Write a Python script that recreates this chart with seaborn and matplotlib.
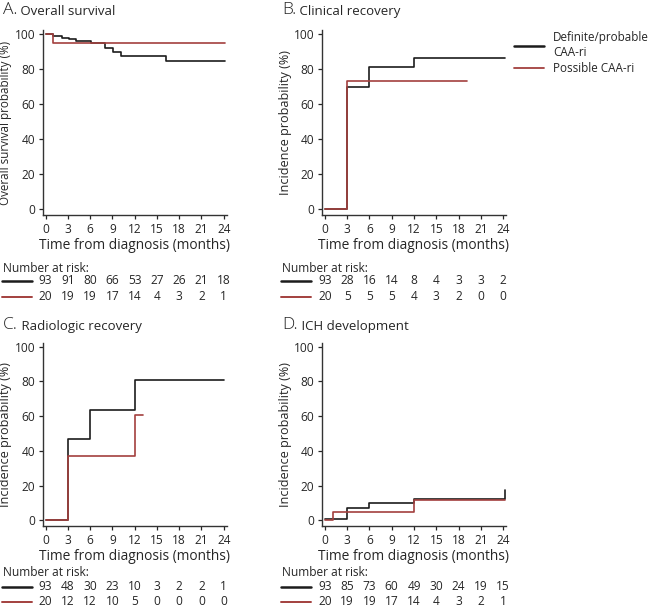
import matplotlib
matplotlib.use('Agg')
import matplotlib.pyplot as plt
import matplotlib.transforms as mtransforms
from matplotlib.lines import Line2D
import seaborn as sns

# colours
black_col = '#1c1c1c'
red_col = '#a3403e'
text_col = '#262626'

# months at which numbers at risk are reported
risk_times = [0, 3, 6, 9, 12, 15, 18, 21, 24]

# A. overall survival
a_def_t = [0, 1, 2.2, 3.1, 4.1, 6.1, 8, 9.1, 10.1, 16.2, 24.2]
a_def_v = [100, 98.9, 97.9, 97.0, 95.9, 95.1, 91.9, 89.5, 87.6, 84.6, 84.6]
a_pos_t = [0, 1, 24.2]
a_pos_v = [100, 95.1, 95.1]
a_risk_def = [93, 91, 80, 66, 53, 27, 26, 21, 18]
a_risk_pos = [20, 19, 19, 17, 14, 4, 3, 2, 1]

# B. clinical recovery
b_def_t = [0, 3, 6, 12, 24.2]
b_def_v = [0, 69.7, 81.1, 86.2, 86.2]
b_pos_t = [0, 3, 19.2]
b_pos_v = [0, 73.5, 73.5]
b_risk_def = [93, 28, 16, 14, 8, 4, 3, 3, 2]
b_risk_pos = [20, 5, 5, 5, 4, 3, 2, 0, 0]

# C. radiologic recovery
c_def_t = [0, 3, 6, 12, 24.1]
c_def_v = [0, 46.9, 63.8, 80.8, 80.8]
c_pos_t = [0, 3, 12, 13.1]
c_pos_v = [0.4, 37.3, 60.5, 60.5]
c_risk_def = [93, 48, 30, 23, 10, 3, 2, 2, 1]
c_risk_pos = [20, 12, 12, 10, 5, 0, 0, 0, 0]

# D. ICH development
d_def_t = [0, 3, 6, 12, 24.2]
d_def_v = [1.1, 7.1, 9.8, 12.1, 17.3]
d_pos_t = [0, 1.1, 12, 24.2]
d_pos_v = [0, 5.1, 12.0, 12.0]
d_risk_def = [93, 85, 73, 60, 49, 30, 24, 19, 15]
d_risk_pos = [20, 19, 19, 17, 14, 4, 3, 2, 1]

sns.set_style('ticks')
plt.rcParams['font.family'] = ['Open Sans', 'DejaVu Sans']
plt.rcParams['text.color'] = text_col
plt.rcParams['axes.labelcolor'] = text_col
plt.rcParams['xtick.color'] = text_col
plt.rcParams['ytick.color'] = text_col

fig = plt.figure(figsize=(6.51, 6.10), dpi=100)

W, H = 651, 610


def px(x, y):
    return x / W, 1 - y / H


panels = [
    ('A.', 'Overall survival', 'Overall survival probability (%)', 8.4,
     a_def_t, a_def_v, a_pos_t, a_pos_v, a_risk_def, a_risk_pos, 42.7, 'top'),
    ('B.', 'Clinical recovery', 'Incidence probability (%)', 9.1,
     b_def_t, b_def_v, b_pos_t, b_pos_v, b_risk_def, b_risk_pos, 322, 'top'),
    ('C.', 'Radiologic recovery', 'Incidence probability (%)', 9.1,
     c_def_t, c_def_v, c_pos_t, c_pos_v, c_risk_def, c_risk_pos, 42.7, 'bottom'),
    ('D.', 'ICH development', 'Incidence probability (%)', 9.1,
     d_def_t, d_def_v, d_pos_t, d_pos_v, d_risk_def, d_risk_pos, 322, 'bottom'),
]

# vertical layout (pixels) for the two rows of panels
rows = {
    'top': dict(ax_top=30, ax_bot=215, title=10, number=268, blk=281, red=297),
    'bottom': dict(ax_top=342.7, ax_bot=526, title=325, number=572, blk=587, red=601.5),
}

for letter, title, ylab, yfs, dt, dv, pt, pv, rdef, rpos, left, row in panels:
    r = rows[row]
    ax = fig.add_axes([left / W, 1 - r['ax_bot'] / H, 184 / W,
                       (r['ax_bot'] - r['ax_top']) / H])

    sns.lineplot(x=dt, y=dv, drawstyle='steps-post', color=black_col,
                 linewidth=1.2, estimator=None, errorbar=None, ax=ax)
    sns.lineplot(x=pt, y=pv, drawstyle='steps-post', color=red_col,
                 linewidth=1.2, estimator=None, errorbar=None, ax=ax)

    ax.set_xlim(-0.4, 24.4)
    ax.set_ylim(-3.2, 102.3)
    ax.set_xticks(risk_times)
    ax.set_yticks([0, 20, 40, 60, 80, 100])
    ax.tick_params(labelsize=8.6, length=3, width=0.9, pad=2.5)
    for s in ['left', 'bottom']:
        ax.spines[s].set_color('#333333')
        ax.spines[s].set_linewidth(1.0)
    sns.despine(ax=ax)
    ax.set_xlabel('Time from diagnosis (months)', fontsize=9.9, labelpad=2)
    ax.set_ylabel(ylab, fontsize=yfs, labelpad=1.5)

    # panel title
    tx, ty = px(left - 40, r['title'])
    t1 = fig.text(tx, ty, letter, fontsize=12.5, va='center', ha='left',
                  fontweight='light')
    ax.annotate(' ' + title, xy=(1, 0), xycoords=t1, va='bottom', ha='left',
                fontsize=9.5, annotation_clip=False)

    # number at risk table
    trans = mtransforms.blended_transform_factory(ax.transData, fig.transFigure)
    nx, ny = px(left - 40, r['number'])
    fig.text(nx, ny, 'Number at risk:', fontsize=8.6, va='center', ha='left')
    for vals, key, col, lw in [(rdef, 'blk', black_col, 1.8), (rpos, 'red', red_col, 1.4)]:
        yy = 1 - r[key] / H
        fig.add_artist(Line2D([(left - 41) / W, (left - 11) / W], [yy, yy],
                              color=col, linewidth=lw))
        for t, v in zip(risk_times, vals):
            ax.text(t, yy, str(v), transform=trans, fontsize=8.6,
                    ha='center', va='center')

# legend to the right of panel B
handles = [Line2D([], [], color=black_col, linewidth=1.8),
           Line2D([], [], color=red_col, linewidth=1.3)]
fig.legend(handles, ['Definite/probable\nCAA-ri', 'Possible CAA-ri'],
           loc='upper left', bbox_to_anchor=px(514, 31), frameon=False,
           fontsize=8.4, handlelength=2.55, handletextpad=0.8,
           labelspacing=0.3, borderaxespad=0, borderpad=0)

fig.savefig('out.png', dpi=100)
